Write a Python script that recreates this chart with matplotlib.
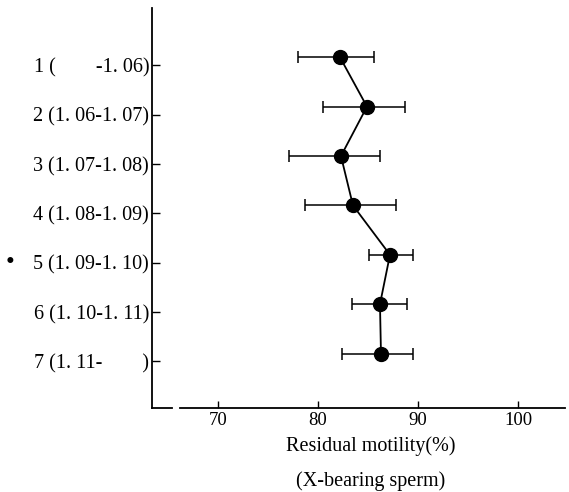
import matplotlib
matplotlib.use("Agg")
import matplotlib.pyplot as plt
from matplotlib.lines import Line2D

categories = ["1 (        -1. 06)", "2 (1. 06-1. 07)", "3 (1. 07-1. 08)", "4 (1. 08-1. 09)",
              "5 (1. 09-1. 10)", "6 (1. 10-1. 11)", "7 (1. 11-        )"]
means = [82.2, 84.9, 82.3, 83.5, 87.2, 86.2, 86.3]
err_low = [78.0, 80.5, 77.1, 78.7, 85.1, 83.4, 82.4]
err_high = [85.6, 88.7, 86.2, 87.8, 89.5, 88.9, 89.5]
xticks = [70, 80, 90, 100]

plt.rcParams['font.family'] = ['Liberation Serif', 'DejaVu Serif']

fig = plt.figure(figsize=(5.69, 4.92), dpi=100)
ax = fig.add_axes([0.267, 0.171, 0.726, 0.813])

pos = list(range(1, len(categories) + 1))
xerr = [[m - l for m, l in zip(means, err_low)], [h - m for m, h in zip(means, err_high)]]
ax.errorbar(means, pos, xerr=xerr, fmt='o', color='black', ecolor='black',
            elinewidth=1.1, capsize=4, capthick=1.1, markersize=10, zorder=3)
ax.plot(means, pos, color='black', lw=1.3, zorder=2)

ax.set_xlim(63.4, 104.7)
ax.set_ylim(8.1, 0.0)
ax.set_xticks(xticks)
ax.set_xticklabels([str(t) for t in xticks], fontsize=13.5)
ax.set_yticks([p + 0.16 for p in pos])
ax.set_yticklabels(categories, fontsize=14.5)
ax.tick_params(axis='y', direction='in', length=6, width=1.0, pad=2)
ax.tick_params(axis='x', direction='in', length=5, width=1.0, pad=3)

for s in ['top', 'right', 'bottom']:
    ax.spines[s].set_visible(False)
ax.spines['left'].set_linewidth(1.3)

# broken bottom axis line
for x0, x1 in [(0.0, 0.048), (0.068, 1.0)]:
    ax.add_line(Line2D([x0, x1], [0, 0], transform=ax.transAxes, color='black',
                       lw=1.3, clip_on=False))

fig.text(0.652, 1 - 446 / 492, "Residual motility(%)", fontsize=14.5, ha='center', va='center')
fig.text(0.652, 1 - 481 / 492, "(X-bearing sperm)", fontsize=14.5, ha='center', va='center')

fig.text(10 / 569, 1 - 263 / 492, "\u2022", fontsize=18, ha='center', va='center')

fig.savefig("out.png", dpi=100)
